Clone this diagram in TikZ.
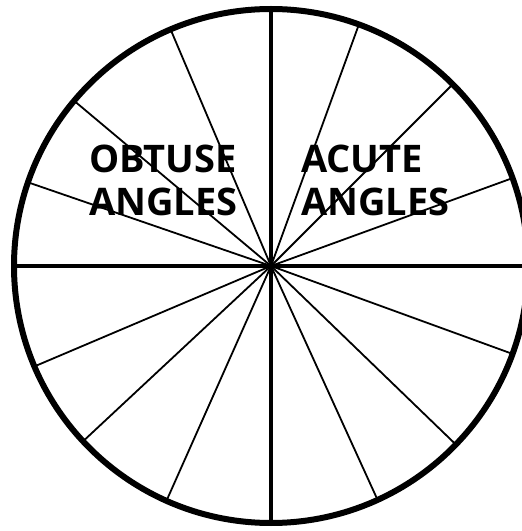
\documentclass[tikz,border=0pt]{standalone}
\usepackage{fontspec}
\setmainfont{Open Sans}
\tikzset{
  rim/.style={line width=6pt},
  axisline/.style={line width=4.6pt},
  spoke/.style={line width=1.8pt},
  anglelabel/.style={font=\bfseries\fontsize{38}{43}\selectfont,
    align=left, inner sep=0pt, anchor=north west}
}

\begin{document}
\begin{tikzpicture}[x=1pt,y=1pt]
  \useasboundingbox (0,0) rectangle (522,531);
  \clip (0,0) rectangle (522,531);
  \coordinate (c) at (271,265);
  \coordinate (n) at (271,522);
  \coordinate (s) at (271,8);
  \coordinate (w) at (13,265);
  \coordinate (e) at (529,265);
  % thin spokes
  \foreach \a in {20,45,70,113,140,161,203,223,246,294.5,316,340}
    \draw[spoke] (c) -- ++(\a:257);
  % quadrant lines
  \draw[axisline] (w) -- (e);
  \draw[axisline] (n) -- (s);
  \draw[rim] (c) circle (257);
  \node[anglelabel] (obtuse) at (89,386) {OBTUSE\\ANGLES};
  \node[anglelabel] (acute) at (301,386) {ACUTE\\ANGLES};
\end{tikzpicture}
\end{document}
